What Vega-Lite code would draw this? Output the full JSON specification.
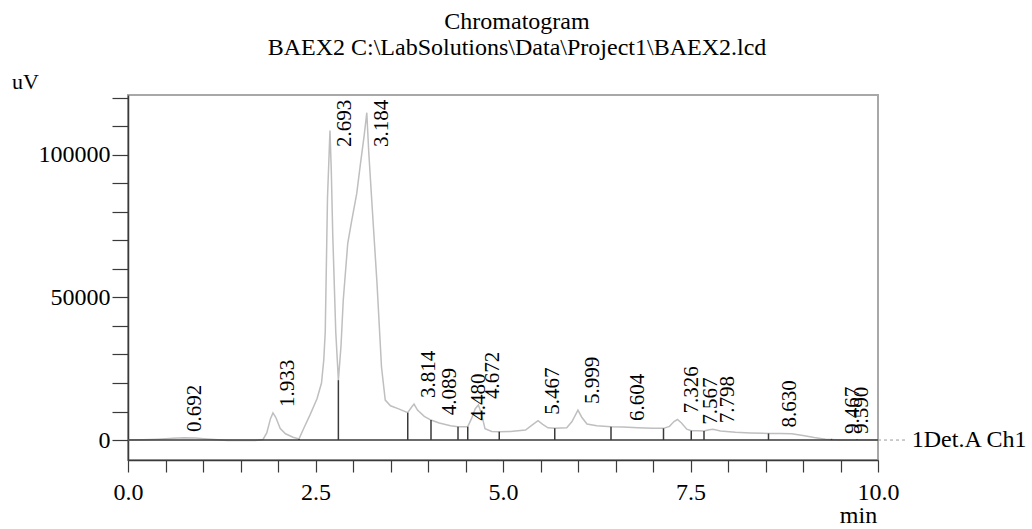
{
  "$schema": "https://vega.github.io/schema/vega-lite/v6.json",
  "autosize": {"type": "none"},
  "padding": {"left": 128, "top": 95, "right": 154, "bottom": 69},
  "width": 750,
  "height": 365,
  "background": "white",
  "config": {
    "view": {"stroke": "#a8a8a8", "strokeWidth": 2},
    "font": "Liberation Serif",
    "axis": {"labelFont": "Liberation Serif", "titleFont": "Liberation Serif", "labelColor": "black", "titleColor": "black", "titleFontWeight": "normal", "grid": false, "domainColor": "#3a3a3a", "tickColor": "#3a3a3a", "domainWidth": 1.5, "tickWidth": 1.2}
  },
  "title": {
    "text": ["Chromatogram", "BAEX2 C:\\LabSolutions\\Data\\Project1\\BAEX2.lcd"],
    "anchor": "middle",
    "font": "Liberation Serif",
    "fontSize": 24,
    "fontWeight": "normal",
    "color": "black",
    "lineHeight": 26,
    "dx": 14,
    "offset": 10
  },
  "datasets": {
    "signal": [
      {"t": 0.0, "v": 0}, {"t": 0.2, "v": 100}, {"t": 0.4, "v": 300}, {"t": 0.6, "v": 600}, {"t": 0.75, "v": 800},
      {"t": 0.9, "v": 700}, {"t": 1.05, "v": 400}, {"t": 1.2, "v": 100}, {"t": 1.32, "v": -200}, {"t": 1.5, "v": -200},
      {"t": 1.7, "v": -150}, {"t": 1.8, "v": 200}, {"t": 1.85, "v": 2500}, {"t": 1.9, "v": 7500}, {"t": 1.933, "v": 9500},
      {"t": 1.97, "v": 8000}, {"t": 2.03, "v": 4000}, {"t": 2.1, "v": 2200}, {"t": 2.2, "v": 1000}, {"t": 2.28, "v": 400},
      {"t": 2.35, "v": 4500}, {"t": 2.43, "v": 9000}, {"t": 2.52, "v": 14500}, {"t": 2.58, "v": 20000}, {"t": 2.61, "v": 28000},
      {"t": 2.63, "v": 38000}, {"t": 2.66, "v": 85000}, {"t": 2.693, "v": 108500}, {"t": 2.71, "v": 95000}, {"t": 2.73, "v": 72000},
      {"t": 2.77, "v": 38000}, {"t": 2.805, "v": 21000}, {"t": 2.84, "v": 33000}, {"t": 2.87, "v": 49000}, {"t": 2.93, "v": 69000},
      {"t": 2.98, "v": 76500}, {"t": 3.05, "v": 86500}, {"t": 3.1, "v": 97000}, {"t": 3.15, "v": 107000}, {"t": 3.184, "v": 114800},
      {"t": 3.21, "v": 101000}, {"t": 3.25, "v": 84000}, {"t": 3.32, "v": 55000}, {"t": 3.38, "v": 25600}, {"t": 3.43, "v": 14000},
      {"t": 3.5, "v": 12000}, {"t": 3.6, "v": 11000}, {"t": 3.73, "v": 9600}, {"t": 3.78, "v": 11500}, {"t": 3.814, "v": 12600},
      {"t": 3.86, "v": 10500}, {"t": 3.95, "v": 8300}, {"t": 4.04, "v": 7000}, {"t": 4.15, "v": 6000}, {"t": 4.3, "v": 5000},
      {"t": 4.4, "v": 4700}, {"t": 4.53, "v": 4700}, {"t": 4.58, "v": 7500}, {"t": 4.63, "v": 11000}, {"t": 4.672, "v": 12300},
      {"t": 4.71, "v": 9500}, {"t": 4.76, "v": 4000}, {"t": 4.85, "v": 3000}, {"t": 4.95, "v": 2900}, {"t": 5.1, "v": 3000},
      {"t": 5.3, "v": 3500}, {"t": 5.4, "v": 5500}, {"t": 5.467, "v": 6800}, {"t": 5.53, "v": 5500}, {"t": 5.6, "v": 4300},
      {"t": 5.69, "v": 4100}, {"t": 5.85, "v": 4300}, {"t": 5.92, "v": 6500}, {"t": 5.999, "v": 10500}, {"t": 6.05, "v": 8000},
      {"t": 6.12, "v": 5600}, {"t": 6.25, "v": 5000}, {"t": 6.44, "v": 4700}, {"t": 6.6, "v": 4600}, {"t": 6.8, "v": 4300},
      {"t": 7.0, "v": 4100}, {"t": 7.14, "v": 4100}, {"t": 7.22, "v": 4800}, {"t": 7.28, "v": 6500}, {"t": 7.326, "v": 7200},
      {"t": 7.38, "v": 6000}, {"t": 7.45, "v": 3800}, {"t": 7.51, "v": 3300}, {"t": 7.6, "v": 3300}, {"t": 7.68, "v": 3200},
      {"t": 7.75, "v": 3600}, {"t": 7.8, "v": 3800}, {"t": 7.9, "v": 3200}, {"t": 8.1, "v": 2700}, {"t": 8.3, "v": 2500},
      {"t": 8.54, "v": 2300}, {"t": 8.7, "v": 2300}, {"t": 8.85, "v": 2200}, {"t": 9.0, "v": 1600}, {"t": 9.15, "v": 900},
      {"t": 9.3, "v": 300}, {"t": 9.38, "v": 200}, {"t": 9.5, "v": 0}, {"t": 9.72, "v": 0}, {"t": 10.0, "v": 0}
    ],
    "drops": [
      {"t": 2.28, "v": 400}, {"t": 2.805, "v": 21000}, {"t": 3.73, "v": 9600}, {"t": 4.04, "v": 7000}, {"t": 4.4, "v": 4700},
      {"t": 4.53, "v": 4700}, {"t": 4.95, "v": 2900}, {"t": 5.69, "v": 4100}, {"t": 6.44, "v": 4700}, {"t": 7.14, "v": 4100},
      {"t": 7.51, "v": 3300}, {"t": 7.68, "v": 3200}, {"t": 8.54, "v": 2300}, {"t": 9.38, "v": 400}, {"t": 9.72, "v": 300}
    ],
    "peaks": [
      {"label": "0.692", "t": 0.692, "h": 700}, {"label": "1.933", "t": 1.933, "h": 9500},
      {"label": "2.693", "t": 2.693, "h": 100700}, {"label": "3.184", "t": 3.184, "h": 100700},
      {"label": "3.814", "t": 3.814, "h": 12600}, {"label": "4.089", "t": 4.089, "h": 6600},
      {"label": "4.480", "t": 4.48, "h": 4700}, {"label": "4.672", "t": 4.672, "h": 12300},
      {"label": "5.467", "t": 5.467, "h": 6800}, {"label": "5.999", "t": 5.999, "h": 10500},
      {"label": "6.604", "t": 6.604, "h": 4600}, {"label": "7.326", "t": 7.326, "h": 7200},
      {"label": "7.567", "t": 7.567, "h": 3300}, {"label": "7.798", "t": 7.798, "h": 3800},
      {"label": "8.630", "t": 8.63, "h": 2300}, {"label": "9.467", "t": 9.467, "h": 0},
      {"label": "9.590", "t": 9.59, "h": 0}
    ],
    "channel": [{"name": "1Det.A Ch1", "t0": 10, "t1": 10.4, "tl": 10.45, "v": 0}],
    "base": [{"t0": 0, "t1": 10, "v": 0}]
  },
  "layer": [
    {
      "data": {"name": "signal"},
      "mark": {"type": "line", "color": "#bfbfbf", "strokeWidth": 1.5, "clip": true},
      "encoding": {
        "x": {"field": "t", "type": "quantitative", "scale": {"domain": [0, 10], "nice": false, "zero": false},
          "axis": {"title": "min", "titleFontSize": 24, "titleX": 730, "titleY": 62, "titleAlign": "center", "titleBaseline": "alphabetic",
            "values": [0, 0.5, 1, 1.5, 2, 2.5, 3, 3.5, 4, 4.5, 5, 5.5, 6, 6.5, 7, 7.5, 8, 8.5, 9, 9.5, 10],
            "tickCount": 100,
            "labelExpr": "datum.value % 2.5 === 0 ? format(datum.value, '.1f') : ''",
            "labelFontSize": 24, "labelPadding": 8, "labelFlush": false, "labelOverlap": false,
            "tickSize": 12,
            "encode": {"ticks": {"update": {"y2": {"signal": "datum.value % 2.5 === 0 ? 12 : 6"}}}}}},
        "y": {"field": "v", "type": "quantitative", "scale": {"domain": [-7000, 121000], "nice": false, "zero": false},
          "axis": {"title": "uV", "titleAngle": 0, "titleFontSize": 22, "titleX": -103, "titleY": -7, "titleAlign": "center", "titleBaseline": "alphabetic",
            "values": [0, 10000, 20000, 30000, 40000, 50000, 60000, 70000, 80000, 90000, 100000, 110000, 120000],
            "tickCount": 100,
            "labelExpr": "datum.value % 50000 === 0 ? format(datum.value, 'd') : ''",
            "labelFontSize": 24, "labelPadding": 2, "labelFlush": false, "labelOverlap": false,
            "tickSize": 16,
            "encode": {"ticks": {"update": {"x2": {"signal": "datum.value % 50000 === 0 ? -16 : -6"}}}}}}
      }
    },
    {
      "data": {"name": "base"},
      "mark": {"type": "rule", "color": "#3a3a3a", "strokeWidth": 1.5},
      "encoding": {
        "x": {"field": "t0", "type": "quantitative"},
        "x2": {"field": "t1"},
        "y": {"field": "v", "type": "quantitative"}
      }
    },
    {
      "data": {"name": "drops"},
      "mark": {"type": "rule", "color": "#3a3a3a", "strokeWidth": 1.5},
      "encoding": {
        "x": {"field": "t", "type": "quantitative"},
        "y": {"field": "v", "type": "quantitative"},
        "y2": {"datum": 0}
      }
    },
    {
      "data": {"name": "peaks"},
      "mark": {"type": "text", "angle": 270, "align": "left", "baseline": "middle", "dx": 6, "dy": 15, "font": "Liberation Serif", "fontSize": 21, "color": "black"},
      "encoding": {
        "x": {"field": "t", "type": "quantitative"},
        "y": {"field": "h", "type": "quantitative"},
        "text": {"field": "label"}
      }
    },
    {
      "data": {"name": "channel"},
      "mark": {"type": "rule", "color": "#9a9a9a", "strokeWidth": 1, "strokeDash": [3, 3], "clip": false},
      "encoding": {
        "x": {"field": "t0", "type": "quantitative"},
        "x2": {"field": "t1"},
        "y": {"field": "v", "type": "quantitative"}
      }
    },
    {
      "data": {"name": "channel"},
      "mark": {"type": "text", "align": "left", "baseline": "middle", "font": "Liberation Serif", "fontSize": 24, "color": "black", "clip": false},
      "encoding": {
        "x": {"field": "tl", "type": "quantitative"},
        "y": {"field": "v", "type": "quantitative"},
        "text": {"field": "name"}
      }
    }
  ]
}
